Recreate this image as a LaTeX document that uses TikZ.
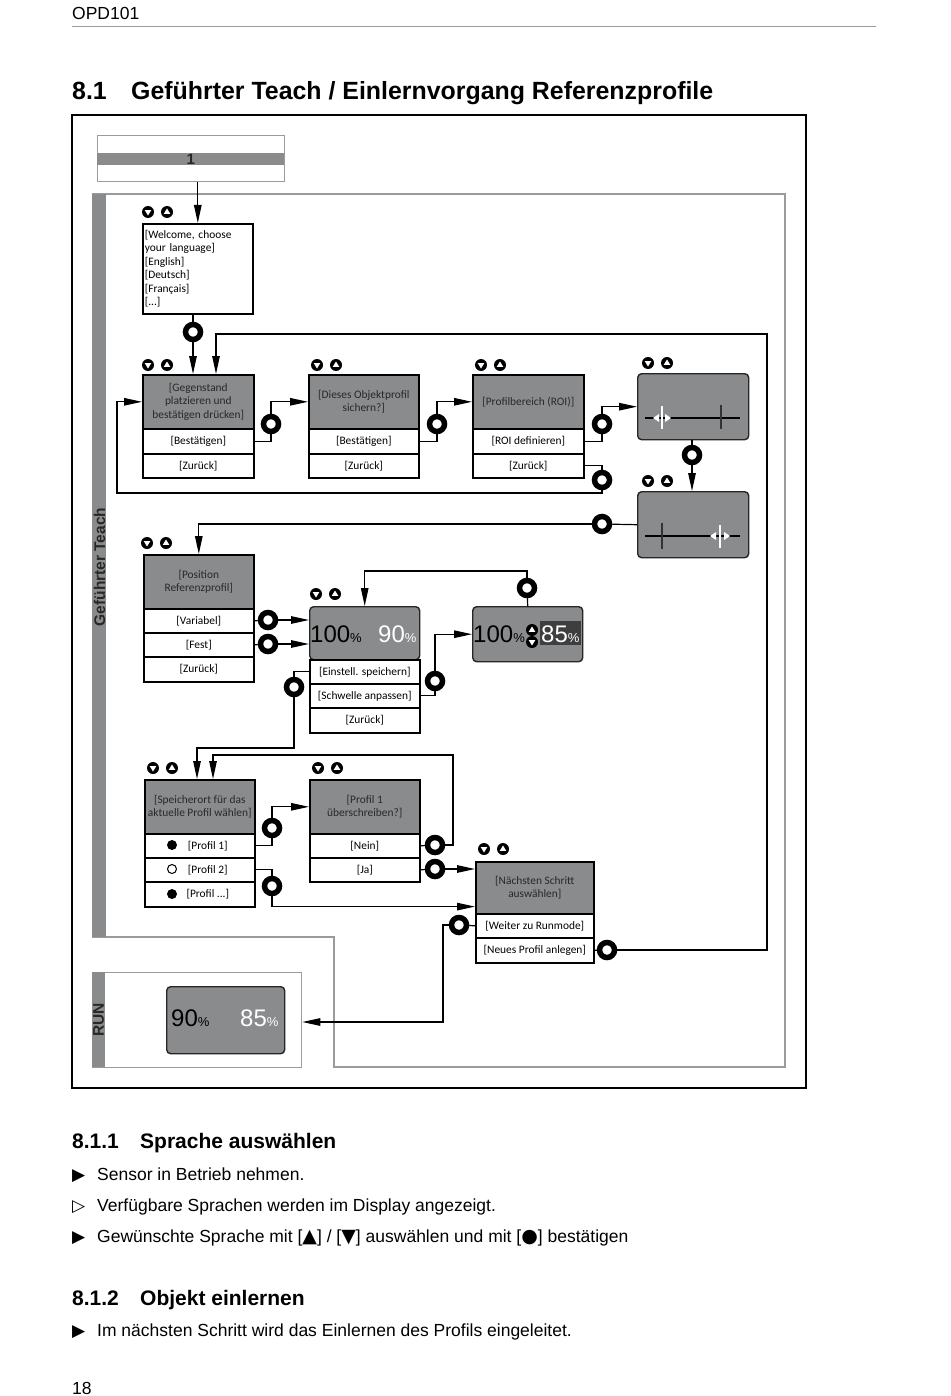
\documentclass[tikz,border=0pt]{standalone}
\usepackage{fontspec}
\setmainfont{Liberation Sans}
\newfontfamily\boxf{Carlito}
\newfontfamily\symf{DejaVu Sans}
\usetikzlibrary{arrows.meta,calc}
\definecolor{bgray}{RGB}{137,139,140}
\definecolor{fgray}{RGB}{155,155,155}
\definecolor{htext}{RGB}{40,40,40}
\definecolor{dkbox}{RGB}{62,62,62}
\tikzset{
  dnic/.pic={\fill[black] (0,0) circle (6); \fill[white] (-3.3,-1.9) -- (3.3,-1.9) -- (0,3.5) -- cycle;},
  upic/.pic={\fill[black] (0,0) circle (6); \fill[white] (-3.3,1.9) -- (3.3,1.9) -- (0,-3.5) -- cycle;},
}
\newcommand\navpair[2]{\pic at (#1,#2) {dnic}; \pic at ({#1+19},#2) {upic};}
\newcommand\pc{{\fontsize{13}{13}\selectfont\%}}
\newcommand\smsym[1]{{\symf\fontsize{19}{19}\selectfont #1}}
\begin{document}
\begin{tikzpicture}[x=1pt,y=-1pt,
  conn/.style={line width=1.2pt, draw=black},
  arr/.style={-{Triangle[length=18pt,width=7.5pt]}},
  hdr/.style={draw=black, line width=1.6pt, fill=bgray, text=htext, font={\boxf\fontsize{11.4}{13.6}\selectfont}, align=center, anchor=north west, inner sep=0pt, minimum width=110pt, minimum height=54pt},
  rowbox/.style={draw=black, line width=1.6pt, fill=white, text=black, font={\boxf\fontsize{11.4}{12}\selectfont}, anchor=north west, inner sep=0pt, minimum width=110pt, minimum height=24pt},
  disp/.style={draw=black!85, line width=1.4pt, fill=bgray, rounded corners=4pt, anchor=north west, inner sep=0pt},
  ring/.style={circle, draw=black, line width=5.5pt, fill=white, minimum size=15pt, inner sep=0pt},
  frame/.style={draw=fgray, line width=1.3pt},
  big/.style={anchor=base west, inner sep=0pt, font={\fontsize{24}{24}\selectfont}},
  body/.style={anchor=base west, inner sep=0pt, font={\fontsize{17.5}{20}\selectfont}},
  sub/.style={anchor=base west, inner sep=0pt, font={\bfseries\fontsize{21}{24}\selectfont}},
  bul/.style={anchor=base west, inner sep=0pt, font={\symf\fontsize{17}{17}\selectfont}},
  side/.style={rotate=90, inner sep=0pt, text=htext, font={\bfseries\fontsize{15.5}{15.5}\selectfont}}
]
\useasboundingbox (0,0) rectangle (950,1396);
\fill[white] (0,0) rectangle (950,1396);

% page header
\node[body] (hdrtxt) at (72,20) {OPD101};
\draw[fgray, line width=1pt] (72,27) -- (876,27);
\node[anchor=base west, inner sep=0pt, font={\bfseries\fontsize{24.9}{28}\selectfont}] (tnum) at (72,100) {8.1};
\node[anchor=base west, inner sep=0pt, font={\bfseries\fontsize{24.9}{28}\selectfont}] (ttxt) at (131,100) {Geführter Teach / Einlernvorgang Referenzprofile};

% outer frame
\draw[line width=1.5pt] (72,115) rectangle (806,1088);

% teach frame
\draw[frame] (92,194) -- (785,194) -- (785,1067) -- (334,1067) -- (334,937) -- (92,937);
\fill[bgray] (92,194) rectangle (106,937);
\node[side] (lblT) at (99.5,567) {Geführter Teach};

% run frame
\node[frame, anchor=north west, minimum width=209pt, minimum height=95pt, inner sep=0pt] (RUNF) at (92,972) {};
\fill[bgray] (92,972) rectangle (105,1067);
\node[side] (lblR) at (98.5,1020) {RUN};

% box 1
\node[frame, anchor=north west, minimum width=187pt, minimum height=46pt, inner sep=0pt] (box1) at (97,135) {};
\node[fill=bgray, anchor=north west, minimum width=187pt, minimum height=12pt, inner sep=0pt, text=htext, font={\bfseries\fontsize{15}{15}\selectfont}] (band) at (97,153) {1};

% welcome
\node[draw=black, line width=1.6pt, anchor=north west, minimum width=110pt, minimum height=90pt, inner sep=2pt, text width=106pt, align=left, font={\boxf\fontsize{11.4}{13.5}\selectfont}] (W) at (142,223) {[Welcome, choose\\your language]\\{}[English]\\{}[Deutsch]\\{}[Français]\\{}[...]};
\navpair{148}{212}

% row 1
\node[hdr, minimum width=111pt] (A) at (142,374) {[Gegenstand\\platzieren und\\bestätigen drücken]};
\node[rowbox, minimum width=111pt, minimum height=25pt] (A1) at (142,428) {[Bestätigen]};
\node[rowbox, minimum width=111pt] (A2) at (142,453) {[Zurück]};
\navpair{148}{365}
\node[hdr] (B) at (308,374) {[Dieses Objektprofil\\sichern?]};
\node[rowbox, minimum height=25pt] (B1) at (308,428) {[Bestätigen]};
\node[rowbox] (B2) at (308,453) {[Zurück]};
\navpair{317}{365}
\node[hdr, minimum width=111pt] (C) at (472,374) {[Profilbereich (ROI)]};
\node[rowbox, minimum width=111pt, minimum height=25pt] (C1) at (472,428) {[ROI definieren]};
\node[rowbox, minimum width=111pt] (C2) at (472,453) {[Zurück]};
\navpair{481}{365}
\node[disp, minimum width=111pt, minimum height=66pt] (D) at (637,373) {};
\navpair{648}{363}
\draw[line width=1.2pt] (645,418) -- (740,418);
\draw[line width=1.2pt, black!80] (721,405) -- (721,429);
\draw[white, line width=1.5pt] (662,406) -- (662,429);
\fill[white] (659,414) -- (659,422) -- (653,418) -- cycle;
\fill[white] (665,414) -- (665,422) -- (671,418) -- cycle;
\node[disp, minimum width=111pt, minimum height=66pt] (E) at (637,491) {};
\navpair{648}{481}
\draw[line width=1.2pt] (645,536) -- (740,536);
\draw[line width=1.2pt, black!80] (662,523) -- (662,549);
\draw[white, line width=1.5pt] (720,525) -- (720,548);
\fill[white] (716,532) -- (716,540) -- (710,536) -- cycle;
\fill[white] (724,532) -- (724,540) -- (730,536) -- cycle;

% row 2
\node[hdr] (F) at (143,554) {[Position\\Referenzprofil]};
\node[rowbox] (F1) at (143,608) {[Variabel]};
\node[rowbox] (F2) at (143,632) {[Fest]};
\node[rowbox, minimum height=25pt] (F3) at (143,656) {[Zurück]};
\navpair{147}{543}
\node[disp, minimum width=110pt, minimum height=53pt] (G) at (309,606) {};
\node[big] (g100) at (310,642) {100\pc};
\node[big, text=white] (g90) at (378,642) {90\pc};
\node[rowbox] (G1) at (309,659) {[Einstell. speichern]};
\node[rowbox] (G2) at (309,683) {[Schwelle anpassen]};
\node[rowbox, minimum height=25pt] (G3) at (309,707) {[Zurück]};
\navpair{316}{594}
\node[disp, minimum width=110pt, minimum height=55pt] (H) at (472,606) {};
\node[fill=dkbox, anchor=north west, minimum width=41pt, minimum height=24pt, inner sep=0pt] (hbox) at (540,621) {};
\node[big] (h100) at (473,642) {100\pc};
\node[big, text=white] (h85) at (541,642) {85\pc};
\pic at (532,630) {upic};
\pic at (532,642) {dnic};

% row 3
\node[hdr] (I) at (144,779) {[Speicherort für das\\aktuelle Profil wählen]};
\node[rowbox] (I1) at (144,833) {\hspace*{16pt}[Profil 1]};
\node[rowbox] (I2) at (144,857) {\hspace*{16pt}[Profil 2]};
\node[rowbox, minimum height=25pt] (I3) at (144,881) {\hspace*{16pt}[Profil ...]};
\fill (172,845) circle (5);
\draw[line width=1pt] (172,869) circle (4.5);
\fill (172,894) circle (5);
\navpair{153}{768}
\node[hdr] (J) at (309,779) {[Profil 1\\überschreiben?]};
\node[rowbox] (J1) at (309,833) {[Nein]};
\node[rowbox] (J2) at (309,857) {[Ja]};
\navpair{318}{768}
\node[hdr, minimum width=118pt, minimum height=52pt] (K) at (475,861) {[Nächsten Schritt\\auswählen]};
\node[rowbox, minimum width=118pt] (K1) at (475,913) {[Weiter zu Runmode]};
\node[rowbox, minimum width=118pt, minimum height=25pt] (K2) at (475,937) {[Neues Profil anlegen]};
\navpair{484}{849}

% run display
\node[disp, minimum width=118pt, minimum height=67pt] (R) at (166,986) {};
\node[big] (r90) at (171,1026) {90\pc};
\node[big, text=white] (r85) at (240,1026) {85\pc};

% rings
\node[ring] (rW) at (193,332) {};
\node[ring] (rA) at (271,424) {};
\node[ring] (rB) at (437,424) {};
\node[ring] (rC) at (602,424) {};
\node[ring] (rC2) at (602,480) {};
\node[ring] (rD) at (692,455) {};
\node[ring] (rE) at (602,524) {};
\node[ring] (rF1) at (268,620) {};
\node[ring] (rF2) at (268,644) {};
\node[ring] (rH) at (527,588) {};
\node[ring] (rG2) at (435,681) {};
\node[ring] (rG1) at (294,687) {};
\node[ring] (rI1) at (272,828) {};
\node[ring] (rI2) at (272,886) {};
\node[ring] (rJ1) at (435,845) {};
\node[ring] (rJ2) at (435,869) {};
\node[ring] (rK1) at (459,925) {};
\node[ring] (rK2) at (607,950) {};

% helper coordinates
\coordinate (loopNE) at (767,334);
\coordinate (loopSW) at (117,493);
\coordinate (hG) at (527,571);
\coordinate (gi) at (197,748);
\coordinate (ji1) at (453,755);
\coordinate (ji2) at (213,755);
\coordinate (kr) at (443,1022);

% connectors
\draw[conn,arr] (W.north |- box1.south) -- (W.north);
\draw[conn] (W.south -| rW) -- (rW);
\draw[conn,arr] (rW) -- (rW |- A.north);
\draw[conn] (K2.east) -- (rK2);
\draw[conn,arr] (rK2) -| (loopNE) -| ($(A.north west)+(74,0)$);
\draw[conn] (A1.east) -| (rA);
\draw[conn,arr] (rA) |- (B.west);
\draw[conn] (B1.east) -| (rB);
\draw[conn,arr] (rB) |- (C.west);
\draw[conn] (C1.east) -| (rC);
\draw[conn,arr] (rC) |- (D.west);
\draw[conn] (C2.east) -| (rC2);
\draw[conn,arr] (rC2) |- (loopSW) |- (A.west);
\draw[conn] (D.south -| rD) -- (rD);
\draw[conn,arr] (rD) -- (rD |- E.north);
\draw[conn] (E.west) -- (rE);
\draw[conn,arr] (rE) -| (F.north);
\draw[conn] (F1.east) -- (rF1);
\draw[conn,arr] (rF1) -- (rF1 -| G.west);
\draw[conn] (F2.east) -- (rF2);
\draw[conn,arr] (rF2) -- (rF2 -| G.west);
\draw[conn] (H.north) -- (rH);
\draw[conn,arr] (rH) -- (hG) -| (G.north);
\draw[conn] (G2.east) -| (rG2);
\draw[conn,arr] (rG2) |- (H.west);
\draw[conn] (G1.west) -| (rG1);
\draw[conn,arr] (rG1) |- (gi) -- (gi |- I.north);
\draw[conn] (J1.east) -- (rJ1);
\draw[conn,arr] (rJ1) -| (ji1) -- (ji2) -- (ji2 |- I.north);
\draw[conn] (I1.east) -| (rI1);
\draw[conn,arr] (rI1) |- (J.west);
\draw[conn] (I2.east) -| (rI2);
\draw[conn,arr] (rI2) |- ($(K.south west)+(0,-8)$);
\draw[conn] (J2.east) -- (rJ2);
\draw[conn,arr] (rJ2) -- (rJ2 -| K.west);
\draw[conn] (K1.west) -- (rK1);
\draw[conn,arr] (rK1) -| (kr) -- (kr -| RUNF.east);

% bottom text
\node[sub] (s1n) at (72,1148) {8.1.1};
\node[sub] (s1t) at (140,1148) {Sprache auswählen};
\node[bul] (b1) at (72,1180) {▶};
\node[body] (t1) at (97,1180) {Sensor in Betrieb nehmen.};
\node[bul] (b2) at (72,1211) {▷};
\node[body] (t2) at (97,1211) {Verfügbare Sprachen werden im Display angezeigt.};
\node[bul] (b3) at (72,1242) {▶};
\node[body] (t3) at (97,1242) {Gewünschte Sprache mit [\smsym{▲}] / [\smsym{▼}] auswählen und mit [\smsym{●}] bestätigen};
\node[sub] (s2n) at (72,1305) {8.1.2};
\node[sub] (s2t) at (140,1305) {Objekt einlernen};
\node[bul] (b4) at (72,1336) {▶};
\node[body] (t4) at (97,1336) {Im nächsten Schritt wird das Einlernen des Profils eingeleitet.};
\node[body] (pg) at (72,1394) {18};
\end{tikzpicture}
\end{document}
